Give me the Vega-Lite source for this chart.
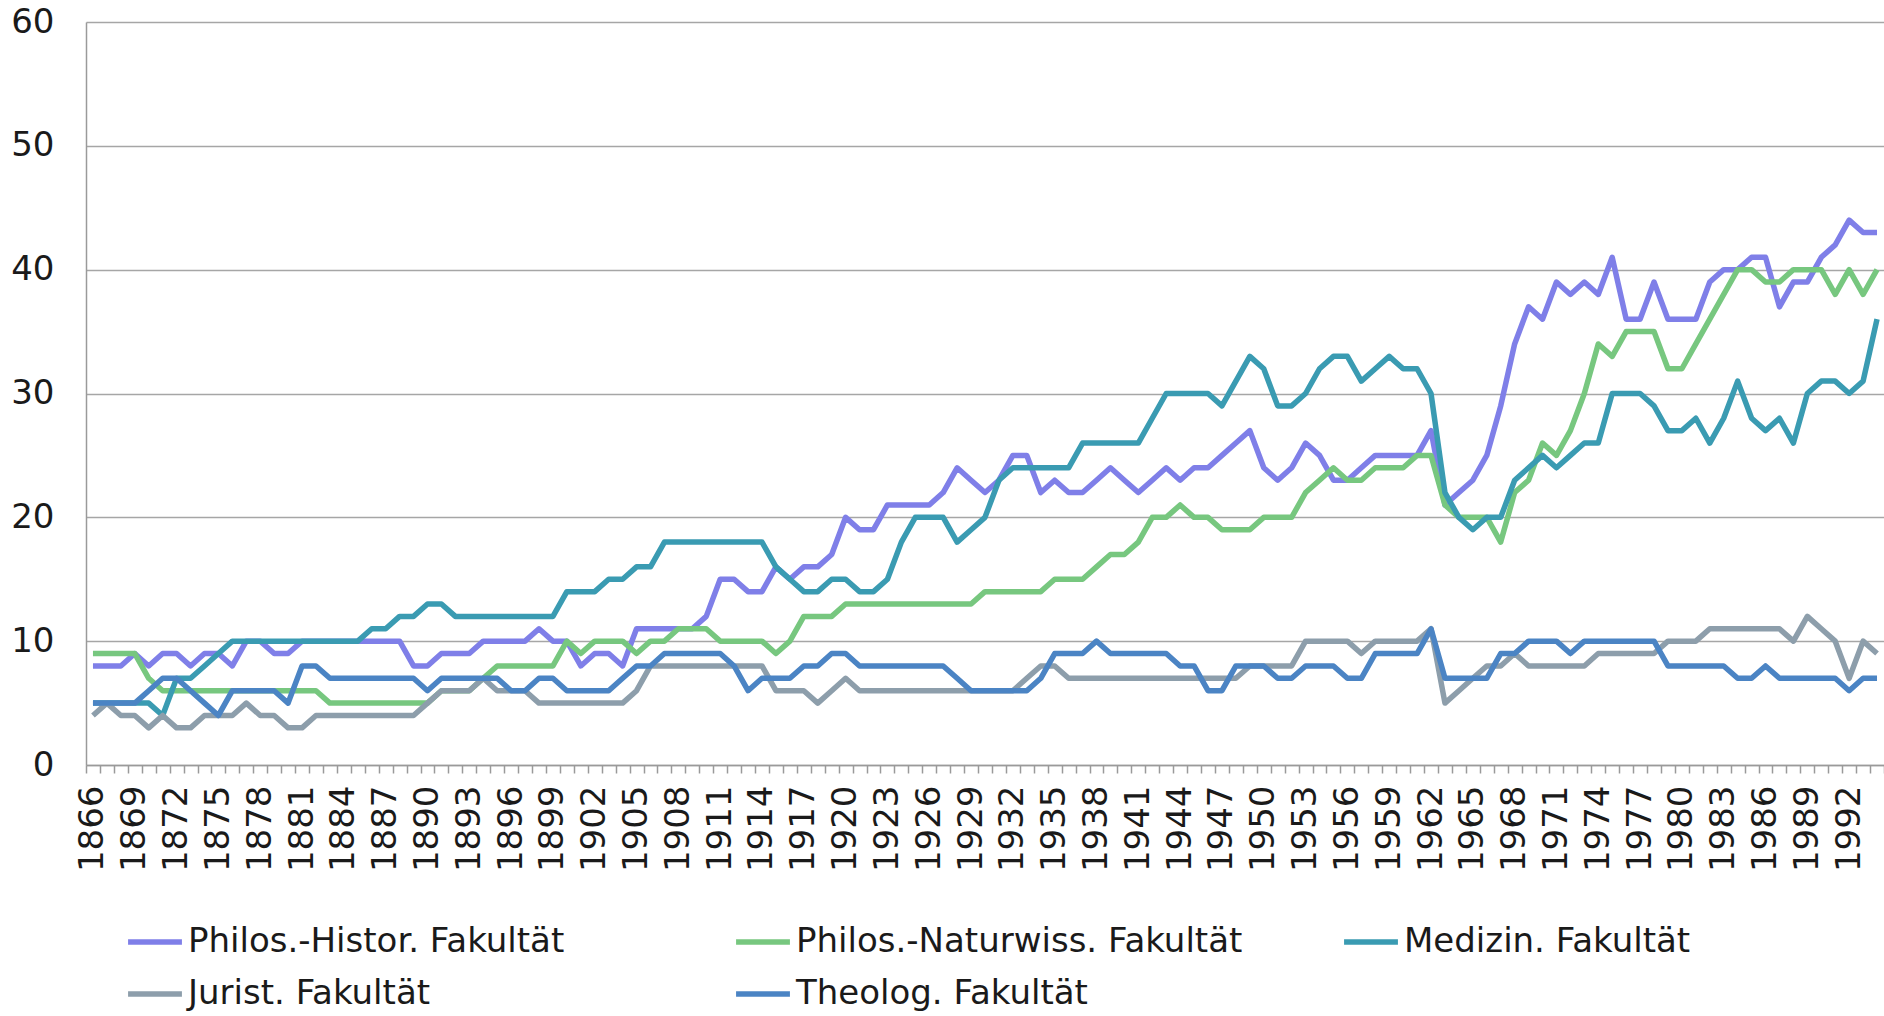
{
  "$schema": "https://vega.github.io/schema/vega-lite/v6.json",
  "width": 1798,
  "height": 743,
  "autosize": {"type": "none"},
  "padding": {"left": 86, "top": 22, "right": 0, "bottom": 251},
  "background": "white",
  "config": {"font": "DejaVu Sans", "view": {"stroke": null}},
  "datasets": {
    "names": [
      {"key": "H", "name": "Philos.-Histor. Fakultät"},
      {"key": "N", "name": "Philos.-Naturwiss. Fakultät"},
      {"key": "M", "name": "Medizin. Fakultät"},
      {"key": "J", "name": "Jurist. Fakultät"},
      {"key": "T", "name": "Theolog. Fakultät"}
    ],
    "rows": [
      {"year":1866,"H":8,"N":9,"M":5,"J":4,"T":5},
      {"year":1867,"H":8,"N":9,"M":5,"J":5,"T":5},
      {"year":1868,"H":8,"N":9,"M":5,"J":4,"T":5},
      {"year":1869,"H":9,"N":9,"M":5,"J":4,"T":5},
      {"year":1870,"H":8,"N":7,"M":5,"J":3,"T":6},
      {"year":1871,"H":9,"N":6,"M":4,"J":4,"T":7},
      {"year":1872,"H":9,"N":6,"M":7,"J":3,"T":7},
      {"year":1873,"H":8,"N":6,"M":7,"J":3,"T":6},
      {"year":1874,"H":9,"N":6,"M":8,"J":4,"T":5},
      {"year":1875,"H":9,"N":6,"M":9,"J":4,"T":4},
      {"year":1876,"H":8,"N":6,"M":10,"J":4,"T":6},
      {"year":1877,"H":10,"N":6,"M":10,"J":5,"T":6},
      {"year":1878,"H":10,"N":6,"M":10,"J":4,"T":6},
      {"year":1879,"H":9,"N":6,"M":10,"J":4,"T":6},
      {"year":1880,"H":9,"N":6,"M":10,"J":3,"T":5},
      {"year":1881,"H":10,"N":6,"M":10,"J":3,"T":8},
      {"year":1882,"H":10,"N":6,"M":10,"J":4,"T":8},
      {"year":1883,"H":10,"N":5,"M":10,"J":4,"T":7},
      {"year":1884,"H":10,"N":5,"M":10,"J":4,"T":7},
      {"year":1885,"H":10,"N":5,"M":10,"J":4,"T":7},
      {"year":1886,"H":10,"N":5,"M":11,"J":4,"T":7},
      {"year":1887,"H":10,"N":5,"M":11,"J":4,"T":7},
      {"year":1888,"H":10,"N":5,"M":12,"J":4,"T":7},
      {"year":1889,"H":8,"N":5,"M":12,"J":4,"T":7},
      {"year":1890,"H":8,"N":5,"M":13,"J":5,"T":6},
      {"year":1891,"H":9,"N":6,"M":13,"J":6,"T":7},
      {"year":1892,"H":9,"N":6,"M":12,"J":6,"T":7},
      {"year":1893,"H":9,"N":6,"M":12,"J":6,"T":7},
      {"year":1894,"H":10,"N":7,"M":12,"J":7,"T":7},
      {"year":1895,"H":10,"N":8,"M":12,"J":6,"T":7},
      {"year":1896,"H":10,"N":8,"M":12,"J":6,"T":6},
      {"year":1897,"H":10,"N":8,"M":12,"J":6,"T":6},
      {"year":1898,"H":11,"N":8,"M":12,"J":5,"T":7},
      {"year":1899,"H":10,"N":8,"M":12,"J":5,"T":7},
      {"year":1900,"H":10,"N":10,"M":14,"J":5,"T":6},
      {"year":1901,"H":8,"N":9,"M":14,"J":5,"T":6},
      {"year":1902,"H":9,"N":10,"M":14,"J":5,"T":6},
      {"year":1903,"H":9,"N":10,"M":15,"J":5,"T":6},
      {"year":1904,"H":8,"N":10,"M":15,"J":5,"T":7},
      {"year":1905,"H":11,"N":9,"M":16,"J":6,"T":8},
      {"year":1906,"H":11,"N":10,"M":16,"J":8,"T":8},
      {"year":1907,"H":11,"N":10,"M":18,"J":8,"T":9},
      {"year":1908,"H":11,"N":11,"M":18,"J":8,"T":9},
      {"year":1909,"H":11,"N":11,"M":18,"J":8,"T":9},
      {"year":1910,"H":12,"N":11,"M":18,"J":8,"T":9},
      {"year":1911,"H":15,"N":10,"M":18,"J":8,"T":9},
      {"year":1912,"H":15,"N":10,"M":18,"J":8,"T":8},
      {"year":1913,"H":14,"N":10,"M":18,"J":8,"T":6},
      {"year":1914,"H":14,"N":10,"M":18,"J":8,"T":7},
      {"year":1915,"H":16,"N":9,"M":16,"J":6,"T":7},
      {"year":1916,"H":15,"N":10,"M":15,"J":6,"T":7},
      {"year":1917,"H":16,"N":12,"M":14,"J":6,"T":8},
      {"year":1918,"H":16,"N":12,"M":14,"J":5,"T":8},
      {"year":1919,"H":17,"N":12,"M":15,"J":6,"T":9},
      {"year":1920,"H":20,"N":13,"M":15,"J":7,"T":9},
      {"year":1921,"H":19,"N":13,"M":14,"J":6,"T":8},
      {"year":1922,"H":19,"N":13,"M":14,"J":6,"T":8},
      {"year":1923,"H":21,"N":13,"M":15,"J":6,"T":8},
      {"year":1924,"H":21,"N":13,"M":18,"J":6,"T":8},
      {"year":1925,"H":21,"N":13,"M":20,"J":6,"T":8},
      {"year":1926,"H":21,"N":13,"M":20,"J":6,"T":8},
      {"year":1927,"H":22,"N":13,"M":20,"J":6,"T":8},
      {"year":1928,"H":24,"N":13,"M":18,"J":6,"T":7},
      {"year":1929,"H":23,"N":13,"M":19,"J":6,"T":6},
      {"year":1930,"H":22,"N":14,"M":20,"J":6,"T":6},
      {"year":1931,"H":23,"N":14,"M":23,"J":6,"T":6},
      {"year":1932,"H":25,"N":14,"M":24,"J":6,"T":6},
      {"year":1933,"H":25,"N":14,"M":24,"J":7,"T":6},
      {"year":1934,"H":22,"N":14,"M":24,"J":8,"T":7},
      {"year":1935,"H":23,"N":15,"M":24,"J":8,"T":9},
      {"year":1936,"H":22,"N":15,"M":24,"J":7,"T":9},
      {"year":1937,"H":22,"N":15,"M":26,"J":7,"T":9},
      {"year":1938,"H":23,"N":16,"M":26,"J":7,"T":10},
      {"year":1939,"H":24,"N":17,"M":26,"J":7,"T":9},
      {"year":1940,"H":23,"N":17,"M":26,"J":7,"T":9},
      {"year":1941,"H":22,"N":18,"M":26,"J":7,"T":9},
      {"year":1942,"H":23,"N":20,"M":28,"J":7,"T":9},
      {"year":1943,"H":24,"N":20,"M":30,"J":7,"T":9},
      {"year":1944,"H":23,"N":21,"M":30,"J":7,"T":8},
      {"year":1945,"H":24,"N":20,"M":30,"J":7,"T":8},
      {"year":1946,"H":24,"N":20,"M":30,"J":7,"T":6},
      {"year":1947,"H":25,"N":19,"M":29,"J":7,"T":6},
      {"year":1948,"H":26,"N":19,"M":31,"J":7,"T":8},
      {"year":1949,"H":27,"N":19,"M":33,"J":8,"T":8},
      {"year":1950,"H":24,"N":20,"M":32,"J":8,"T":8},
      {"year":1951,"H":23,"N":20,"M":29,"J":8,"T":7},
      {"year":1952,"H":24,"N":20,"M":29,"J":8,"T":7},
      {"year":1953,"H":26,"N":22,"M":30,"J":10,"T":8},
      {"year":1954,"H":25,"N":23,"M":32,"J":10,"T":8},
      {"year":1955,"H":23,"N":24,"M":33,"J":10,"T":8},
      {"year":1956,"H":23,"N":23,"M":33,"J":10,"T":7},
      {"year":1957,"H":24,"N":23,"M":31,"J":9,"T":7},
      {"year":1958,"H":25,"N":24,"M":32,"J":10,"T":9},
      {"year":1959,"H":25,"N":24,"M":33,"J":10,"T":9},
      {"year":1960,"H":25,"N":24,"M":32,"J":10,"T":9},
      {"year":1961,"H":25,"N":25,"M":32,"J":10,"T":9},
      {"year":1962,"H":27,"N":25,"M":30,"J":11,"T":11},
      {"year":1963,"H":21,"N":21,"M":22,"J":5,"T":7},
      {"year":1964,"H":22,"N":20,"M":20,"J":6,"T":7},
      {"year":1965,"H":23,"N":20,"M":19,"J":7,"T":7},
      {"year":1966,"H":25,"N":20,"M":20,"J":8,"T":7},
      {"year":1967,"H":29,"N":18,"M":20,"J":8,"T":9},
      {"year":1968,"H":34,"N":22,"M":23,"J":9,"T":9},
      {"year":1969,"H":37,"N":23,"M":24,"J":8,"T":10},
      {"year":1970,"H":36,"N":26,"M":25,"J":8,"T":10},
      {"year":1971,"H":39,"N":25,"M":24,"J":8,"T":10},
      {"year":1972,"H":38,"N":27,"M":25,"J":8,"T":9},
      {"year":1973,"H":39,"N":30,"M":26,"J":8,"T":10},
      {"year":1974,"H":38,"N":34,"M":26,"J":9,"T":10},
      {"year":1975,"H":41,"N":33,"M":30,"J":9,"T":10},
      {"year":1976,"H":36,"N":35,"M":30,"J":9,"T":10},
      {"year":1977,"H":36,"N":35,"M":30,"J":9,"T":10},
      {"year":1978,"H":39,"N":35,"M":29,"J":9,"T":10},
      {"year":1979,"H":36,"N":32,"M":27,"J":10,"T":8},
      {"year":1980,"H":36,"N":32,"M":27,"J":10,"T":8},
      {"year":1981,"H":36,"N":34,"M":28,"J":10,"T":8},
      {"year":1982,"H":39,"N":36,"M":26,"J":11,"T":8},
      {"year":1983,"H":40,"N":38,"M":28,"J":11,"T":8},
      {"year":1984,"H":40,"N":40,"M":31,"J":11,"T":7},
      {"year":1985,"H":41,"N":40,"M":28,"J":11,"T":7},
      {"year":1986,"H":41,"N":39,"M":27,"J":11,"T":8},
      {"year":1987,"H":37,"N":39,"M":28,"J":11,"T":7},
      {"year":1988,"H":39,"N":40,"M":26,"J":10,"T":7},
      {"year":1989,"H":39,"N":40,"M":30,"J":12,"T":7},
      {"year":1990,"H":41,"N":40,"M":31,"J":11,"T":7},
      {"year":1991,"H":42,"N":38,"M":31,"J":10,"T":7},
      {"year":1992,"H":44,"N":40,"M":30,"J":7,"T":6},
      {"year":1993,"H":43,"N":38,"M":31,"J":10,"T":7},
      {"year":1994,"H":43,"N":40,"M":36,"J":9,"T":7}
    ]
  },
  "data": {"name": "rows"},
  "transform": [
    {"fold": ["H", "N", "M", "J", "T"], "as": ["key", "value"]},
    {"lookup": "key", "from": {"data": {"name": "names"}, "key": "key", "fields": ["name"]}}
  ],
  "mark": {"type": "line", "strokeWidth": 5.5, "strokeJoin": "round"},
  "encoding": {
    "x": {
      "field": "year",
      "type": "ordinal",
      "bandPosition": 0.5,
      "scale": {"type": "band", "paddingInner": 0, "paddingOuter": 0},
      "axis": {
        "title": null,
        "labelExpr": "(datum.value - 1866) % 3 == 0 ? datum.label : ''",
        "labelOverlap": false,
        "labelAngle": -90,
        "labelAlign": "right",
        "labelBaseline": "middle",
        "labelFontSize": 34,
        "labelColor": "#1a1a1a",
        "labelPadding": 12,
        "tickBand": "extent",
        "ticks": true,
        "tickSize": 8,
        "tickColor": "#9a9a9a",
        "tickWidth": 1.5,
        "domainColor": "#9a9a9a",
        "domainWidth": 1.5,
        "grid": false
      }
    },
    "y": {
      "field": "value",
      "type": "quantitative",
      "scale": {"domain": [0, 60], "nice": false},
      "axis": {
        "title": null,
        "values": [0, 10, 20, 30, 40, 50, 60],
        "grid": true,
        "gridColor": "#a6a6a6",
        "gridWidth": 1.5,
        "domain": true,
        "domainColor": "#9a9a9a",
        "domainWidth": 1.5,
        "ticks": false,
        "labelFontSize": 34,
        "labelColor": "#1a1a1a",
        "labelPadding": 32
      }
    },
    "color": {
      "field": "name",
      "type": "nominal",
      "scale": {
        "domain": ["Philos.-Histor. Fakultät", "Philos.-Naturwiss. Fakultät", "Medizin. Fakultät", "Jurist. Fakultät", "Theolog. Fakultät"],
        "range": ["#7f7fe8", "#77c77f", "#3a9bb2", "#8d9eab", "#4b84c4"]
      },
      "legend": {
        "title": null,
        "orient": "none",
        "legendX": 39,
        "legendY": 890,
        "direction": "horizontal",
        "columns": 3,
        "gridAlign": "all",
        "columnPadding": 90,
        "rowPadding": 5,
        "symbolType": "stroke",
        "symbolSize": 2900,
        "symbolStrokeWidth": 5.5,
        "labelFontSize": 34,
        "labelOffset": 3,
        "labelColor": "#1a1a1a",
        "labelLimit": 0
      }
    }
  }
}
